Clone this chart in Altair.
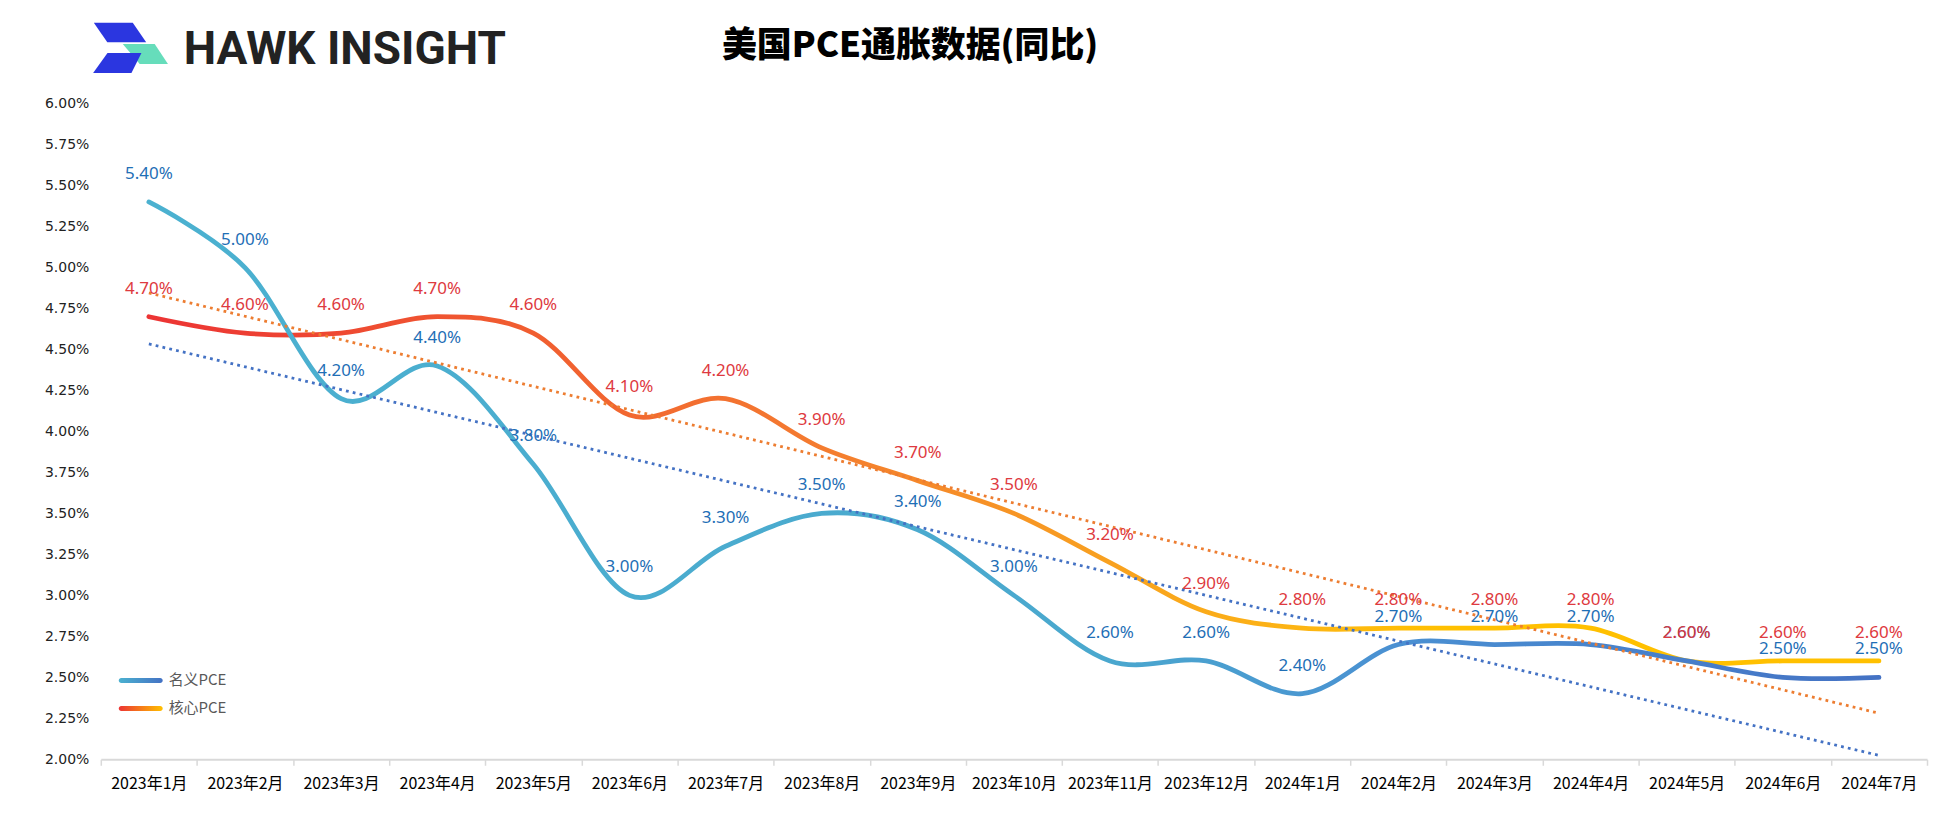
import json
import altair as alt
import pandas as pd

# ---------------- data ----------------
months = ["2023年1月", "2023年2月", "2023年3月", "2023年4月", "2023年5月", "2023年6月",
          "2023年7月", "2023年8月", "2023年9月", "2023年10月", "2023年11月", "2023年12月",
          "2024年1月", "2024年2月", "2024年3月", "2024年4月", "2024年5月", "2024年6月",
          "2024年7月"]
nominal_pce = [5.4, 5.0, 4.2, 4.4, 3.8, 3.0, 3.3, 3.5, 3.4, 3.0, 2.6, 2.6,
               2.4, 2.7, 2.7, 2.7, 2.6, 2.5, 2.5]
core_pce = [4.7, 4.6, 4.6, 4.7, 4.6, 4.1, 4.2, 3.9, 3.7, 3.5, 3.2, 2.9,
            2.8, 2.8, 2.8, 2.8, 2.6, 2.6, 2.6]
series_names = ["名义PCE", "核心PCE"]
y_ticks = [2.0, 2.25, 2.5, 2.75, 3.0, 3.25, 3.5, 3.75, 4.0, 4.25, 4.5, 4.75,
           5.0, 5.25, 5.5, 5.75, 6.0]
title_text = "美国PCE通胀数据(同比)"
brand_text = "HAWK INSIGHT"

rows = []
for i, m in enumerate(months):
    rows.append({"month": m, "idx": i, "series": series_names[0], "val": nominal_pce[i]})
    rows.append({"month": m, "idx": i, "series": series_names[1], "val": core_pce[i]})
df = pd.DataFrame(rows)

# ---------------- layout / style ----------------
W, H = 1830, 657
months_js = json.dumps(months, ensure_ascii=False)


def grad(stops):
    return alt.LinearGradient(
        gradient="linear",
        stops=[alt.GradientStop(offset=o, color=c) for o, c in stops],
        x1=0, x2=1, y1=0, y2=0,
    )


nominal_grad = grad([(0, "#4BB1D0"), (0.55, "#4AA8CE"), (0.72, "#4A90D2"), (1, "#4472C4")])
core_grad = grad([(0, "#EC3434"), (0.2, "#F05A30"), (0.38, "#F47A30"), (0.55, "#F8A020"),
                  (0.68, "#FDB712"), (0.75, "#FFC000"), (1, "#FFC000")])
legend_nominal_grad = grad([(0, "#4BB1D0"), (1, "#4472C4")])
legend_core_grad = grad([(0, "#EC3434"), (1, "#FFC000")])

x_enc = alt.X(
    "month:N", sort=months,
    scale=alt.Scale(paddingInner=0, paddingOuter=0),
    axis=alt.Axis(
        title=None, labelAngle=0, tickBand="extent", ticks=True, tickSize=6,
        tickColor="#D9D9D9", tickWidth=1.5, domainColor="#D9D9D9", domainWidth=2,
        labelFontSize=16, labelColor="#000000", labelPadding=10,
        labelFont="Liberation Sans Narrow, Noto Sans CJK SC", grid=False,
    ),
)
y_enc = alt.Y(
    "val:Q",
    scale=alt.Scale(domain=[2, 6], nice=False, zero=False),
    axis=alt.Axis(
        title=None, values=y_ticks, labelExpr="format(datum.value, '.2f') + '%'",
        grid=False, domain=False, ticks=False, labelFontSize=14,
        labelFont="DejaVu Sans", labelColor="#222222", labelPadding=12,
    ),
)

base = alt.Chart(df)

core_line = base.transform_filter(alt.datum.series == series_names[1]).mark_line(
    interpolate="cardinal", strokeWidth=4.8, strokeCap="round", stroke=core_grad
).encode(x=x_enc, y=y_enc)

nominal_line = base.transform_filter(alt.datum.series == series_names[0]).mark_line(
    interpolate="cardinal", strokeWidth=4.8, strokeCap="round", stroke=nominal_grad
).encode(x=x_enc, y=y_enc)


def trend(name, color):
    return base.transform_filter(alt.datum.series == name).transform_regression(
        "idx", "val", method="linear", extent=[0, len(months) - 1]
    ).transform_calculate(
        month=f"{months_js}[round(datum.idx)]"
    ).mark_line(
        strokeWidth=2.8, strokeDash=[2.8, 4.2], color=color
    ).encode(x=x_enc, y=y_enc)


nominal_trend = trend(series_names[0], "#4472C4")
core_trend = trend(series_names[1], "#ED7D31")


def labels(name, color):
    return base.transform_filter(alt.datum.series == name).transform_calculate(
        lbl="format(datum.val, '.2f') + '%'"
    ).mark_text(
        dy=-28, fontSize=17, font="Noto Sans", color=color, baseline="middle", align="center"
    ).encode(x=x_enc, y=y_enc, text="lbl:N")


nominal_labels = labels(series_names[0], "#1F6FB6")
core_labels = labels(series_names[1], "#DE3A40")

# ---------------- legend (inside plot, lower left) ----------------
one = alt.Chart(pd.DataFrame({"k": [0]}))
leg_rect1 = one.mark_rect(fill=legend_nominal_grad, cornerRadius=2.5).encode(
    x=alt.value(18), x2=alt.value(62), y=alt.value(575.5), y2=alt.value(580.5))
leg_rect2 = one.mark_rect(fill=legend_core_grad, cornerRadius=2.5).encode(
    x=alt.value(18), x2=alt.value(62), y=alt.value(603.5), y2=alt.value(608.5))
leg_txt1 = one.mark_text(align="left", baseline="middle", fontSize=15, color="#595959",
                         font="Noto Sans CJK SC").encode(
    x=alt.value(68), y=alt.value(578), text=alt.value(series_names[0]))
leg_txt2 = one.mark_text(align="left", baseline="middle", fontSize=15, color="#595959",
                         font="Noto Sans CJK SC").encode(
    x=alt.value(68), y=alt.value(606), text=alt.value(series_names[1]))

# ---------------- title and brand ----------------
title_mark = one.mark_text(align="center", baseline="middle", fontSize=35, fontWeight=900,
                           font="Noto Sans CJK SC", color="#000000").encode(
    x=alt.value(811), y=alt.value(-58), text=alt.value(title_text))
brand_mark = one.mark_text(align="left", baseline="alphabetic", fontSize=46, fontWeight="bold",
                           font="Liberation Sans Narrow, Roboto", color="#222222").encode(
    x=alt.value(83), y=alt.value(-40), text=alt.value(brand_text))

logo_top = "M1,0L40,0L53.5,19.5L14.5,19.5Z"
logo_green = "M30,21.3L62,21.3L75.3,41.3L47,41.3Z"
logo_bottom = "M14.7,30.3L48.7,30.3L38.7,50.3L0.3,50.3Z"
logo_layers = [
    one.mark_point(shape=p, size=4, filled=True, fill=c, strokeWidth=0, opacity=1).encode(
        x=alt.value(-8), y=alt.value(-81))
    for p, c in [(logo_green, "#66DDBB"), (logo_top, "#2B36E0"), (logo_bottom, "#2B36E0")]
]

chart = alt.layer(
    core_line, nominal_line, nominal_trend, core_trend, nominal_labels, core_labels,
    leg_rect1, leg_rect2, leg_txt1, leg_txt2, title_mark, brand_mark, *logo_layers
).resolve_scale(x="shared", y="shared").properties(
    width=W, height=H,
    padding={"left": 93, "top": 95, "right": 4, "bottom": 55},
    autosize=alt.AutoSizeParams(type="none"),
    background="white",
).configure_view(stroke=None)

chart.save("out.html", embed_options={"renderer": "svg", "actions": False})
